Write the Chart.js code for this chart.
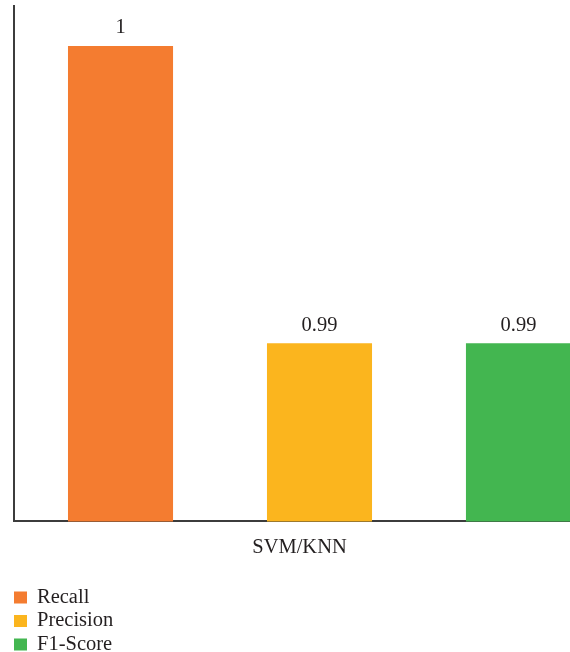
<!DOCTYPE html>
<html>
<head>
<meta charset="utf-8">
<script src="https://cdn.jsdelivr.net/npm/chart.js@4"></script>
<style>
  body { margin: 0; overflow: hidden; background: #fff; }
  #wrap { width: 625px; height: 652px; }
</style>
</head>
<body>
<div id="wrap"><canvas id="myChart" width="625" height="652"></canvas></div>
<script>
// datos
const categorias = ['SVM/KNN'];
const recall = [1];
const precision = [0.99];
const f1score = [0.99];
const series = ['Recall', 'Precision', 'F1-Score'];
const colores = ['#f47c30', '#fbb51e', '#43b650'];

const fuente = 'Liberation Serif';
const texto = '#231f20';

// etiquetas sobre las barras
const valores = {
  id: 'valores',
  afterDatasetsDraw(chart) {
    const ctx = chart.ctx;
    ctx.save();
    ctx.font = '20.5px "' + fuente + '"';
    ctx.fillStyle = texto;
    ctx.textAlign = 'center';
    ctx.textBaseline = 'middle';
    chart.data.datasets.forEach((ds, i) => {
      chart.getDatasetMeta(i).data.forEach((bar, j) => {
        ctx.fillText(String(ds.data[j]), bar.x, bar.y - 18);
      });
    });
    ctx.restore();
  }
};

// leyenda vertical abajo a la izquierda
const leyenda = {
  id: 'leyenda',
  afterDraw(chart) {
    const ctx = chart.ctx;
    ctx.save();
    ctx.font = '20.5px "' + fuente + '"';
    ctx.textBaseline = 'middle';
    chart.data.datasets.forEach((ds, i) => {
      const y = 597.5 + i * 23.5;
      ctx.fillStyle = ds.backgroundColor;
      ctx.fillRect(14, y - 6, 13, 12);
      ctx.fillStyle = texto;
      ctx.fillText(ds.label, 37, y);
    });
    ctx.restore();
  }
};

const ctx = document.getElementById('myChart');
new Chart(ctx, {
  type: 'bar',
  data: {
    labels: categorias,
    datasets: [
      { label: series[0], data: recall, backgroundColor: colores[0] },
      { label: series[1], data: precision, backgroundColor: colores[1] },
      { label: series[2], data: f1score, backgroundColor: colores[2] },
    ]
  },
  options: {
    responsive: false,
    animation: false,
    layout: { padding: { left: 14, top: 6, right: 0, bottom: 78 } },
    datasets: {
      bar: { categoryPercentage: 0.977, barPercentage: 0.528 }
    },
    scales: {
      x: {
        grid: { display: false, drawTicks: false },
        border: { display: true, color: '#3c3c3c', width: 2 },
        ticks: {
          color: texto,
          padding: 14,
          labelOffset: -20,
          font: { family: fuente, size: 20.5 }
        }
      },
      y: {
        min: 0.984,
        max: 1.00135,
        grid: { display: false, drawTicks: false },
        border: { display: true, color: '#3c3c3c', width: 2 },
        ticks: { display: false }
      }
    },
    plugins: {
      legend: { display: false },
      tooltip: { enabled: false }
    }
  },
  plugins: [valores, leyenda]
});
</script>
</body>
</html>
